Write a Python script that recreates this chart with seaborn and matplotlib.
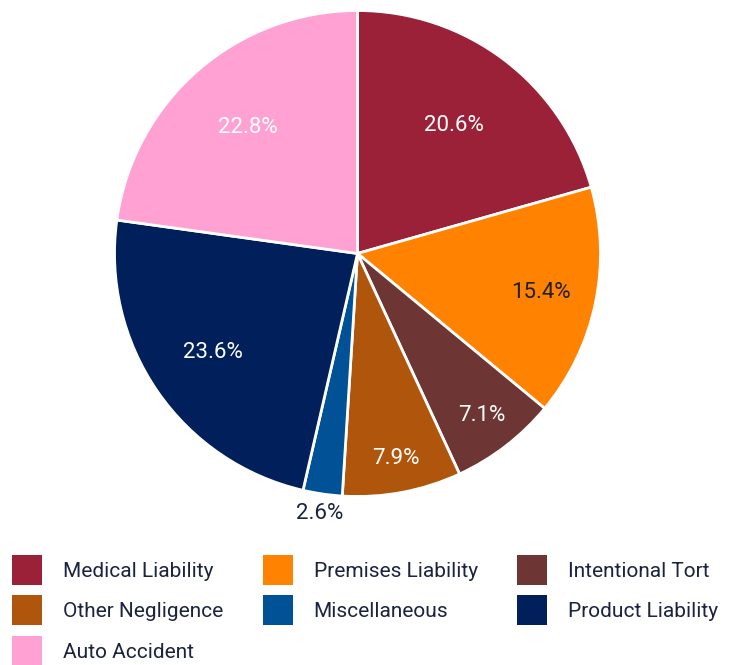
import numpy as np
import matplotlib
matplotlib.use("Agg")
import matplotlib.pyplot as plt
import seaborn as sns
from matplotlib.patches import Patch

# data
categories = ["Medical Liability", "Premises Liability", "Intentional Tort",
              "Other Negligence", "Miscellaneous", "Product Liability", "Auto Accident"]
shares = [20.6, 15.4, 7.1, 7.9, 2.6, 23.6, 22.8]
colors = ["#9b2139", "#ff8200", "#6e3535", "#b0560c", "#005195", "#001f5b", "#ffa1d3"]
label_colors = ["white", "#1f1f24", "white", "white", "#1b2340", "white", "white"]
label_radius = [0.66, 0.77, 0.84, 0.86, 1.08, 0.72, 0.69]

sns.set_theme(style="white")
plt.rcParams["font.family"] = ["Roboto", "DejaVu Sans"]

fig = plt.figure(figsize=(7.29, 6.65), dpi=100)
W, H = 729, 665
cx, cy, r = 357.5, 253.5, 243
ax = fig.add_axes([(cx - r) / W, (H - cy - r) / H, 2 * r / W, 2 * r / H])

wedges, _ = ax.pie(shares, colors=colors, startangle=90, counterclock=False,
                   wedgeprops=dict(edgecolor="white", linewidth=2))
ax.set_aspect("equal")
ax.set_xlim(-1, 1)
ax.set_ylim(-1, 1)
ax.axis("off")

# percentage labels
for w, val, lr, lc in zip(wedges, shares, label_radius, label_colors):
    ang = np.deg2rad((w.theta1 + w.theta2) / 2)
    ax.text(lr * np.cos(ang), lr * np.sin(ang), f"{val}%",
            ha="center", va="center", fontsize=16, color=lc)

# legend, filled column-wise so reorder for row layout
ncol = 3
order = []
for c in range(ncol):
    order.extend(range(c, len(categories), ncol))
handles = [Patch(facecolor=colors[i], edgecolor="none", label=categories[i]) for i in order]
fig.legend(handles=handles, loc="upper left", bbox_to_anchor=(12 / W, 1 - 555 / H),
           ncol=ncol, frameon=False, borderpad=0, borderaxespad=0,
           handlelength=1.44, handleheight=1.84, handletextpad=1.0,
           columnspacing=1.9, labelspacing=0.5,
           prop={"family": "Roboto", "size": 15}, labelcolor="#1b2340")

fig.savefig("out.png", dpi=100)
